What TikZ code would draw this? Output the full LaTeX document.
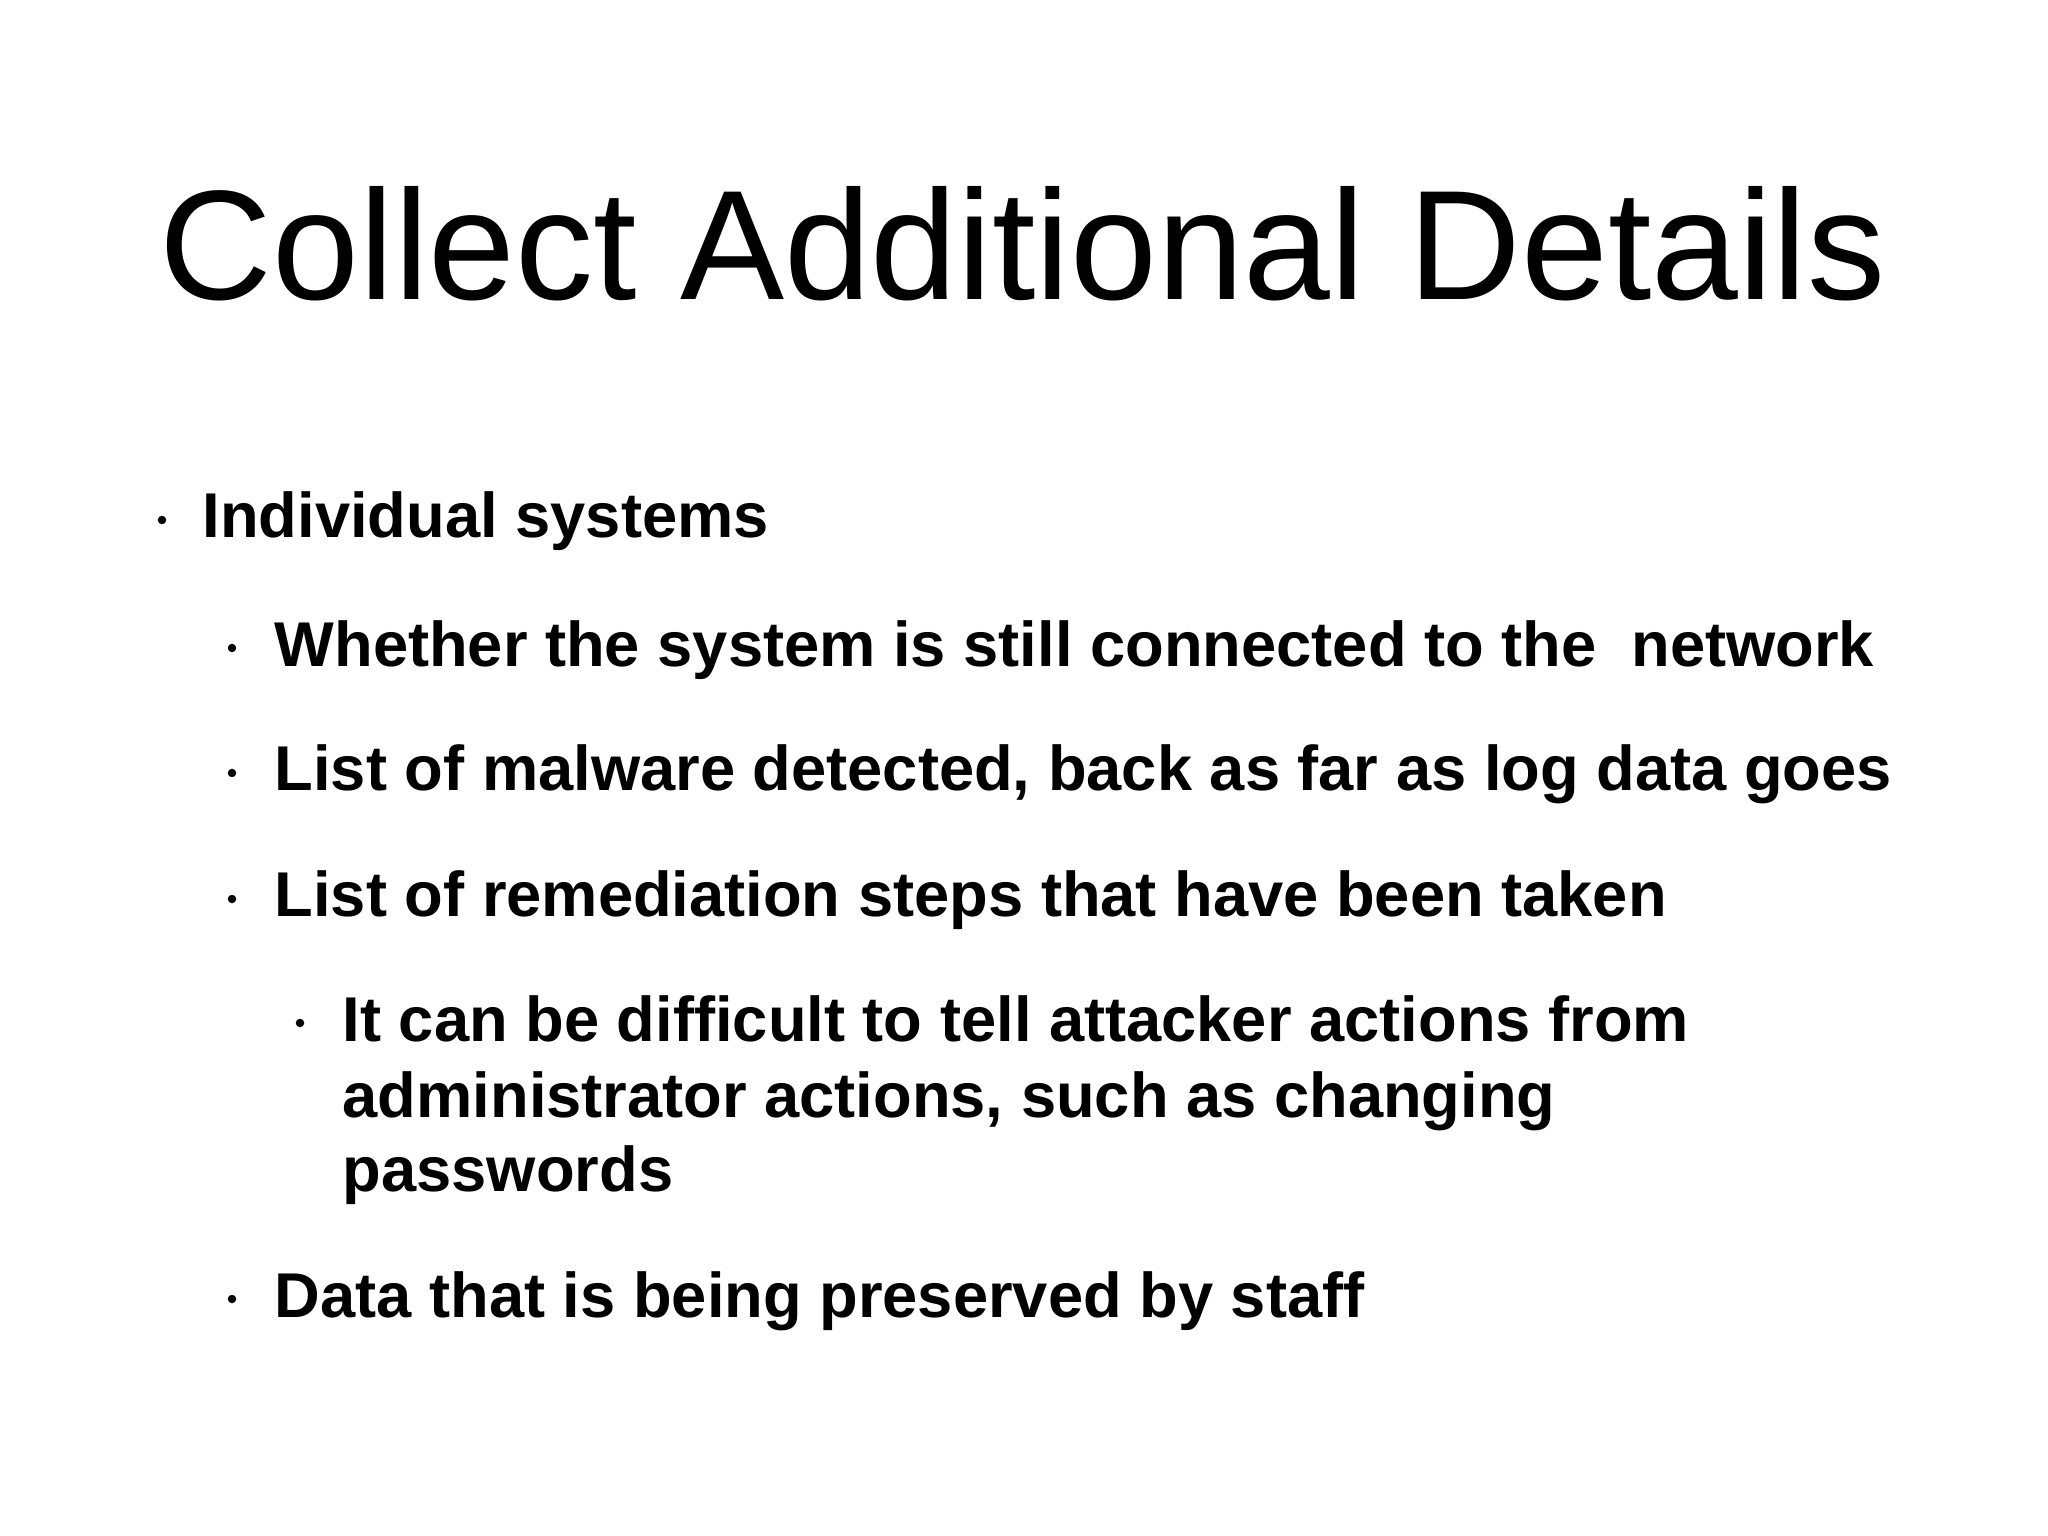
\documentclass[tikz,border=0pt]{standalone}
\usepackage{fontspec}
\setmainfont{Liberation Sans}
\begin{document}
\begin{tikzpicture}[x=1cm,y=-1cm,
  item/.style={anchor=base west,inner sep=0pt,font=\fontsize{18pt}{22pt}\selectfont\bfseries},
  dot/.style={circle,fill=black,inner sep=0pt,minimum size=0.085cm}]
\useasboundingbox[fill=white] (0,0) rectangle (20.48,15.36);
\node[anchor=base,inner sep=0pt,font=\fontsize{44.4pt}{50pt}\selectfont] (title) at (10.23,3.0) {Collect Additional Details};
\node[item] (l1) at (2.02,5.38) {Individual systems};
\node[item] (l2) at (2.74,6.66) {Whether the system is still connected to the\ \ network};
\node[item] (l3) at (2.74,7.91) {List of malware detected, back as far as log data goes};
\node[item] (l4) at (2.74,9.17) {List of remediation steps that have been taken};
\node[item] (l5) at (3.42,10.41) {It can be difficult to tell attacker actions from};
\node[item] (l6) at (3.42,11.17) {administrator actions, such as changing};
\node[item] (l7) at (3.42,11.91) {passwords};
\node[item] (l8) at (2.74,13.17) {Data that is being preserved by staff};
\node[dot] (d1) at (1.62,5.20) {};
\node[dot] (d2) at (2.32,6.48) {};
\node[dot] (d3) at (2.32,7.73) {};
\node[dot] (d4) at (2.32,8.99) {};
\node[dot] (d5) at (3.00,10.23) {};
\node[dot] (d8) at (2.32,12.99) {};
\end{tikzpicture}
\end{document}
